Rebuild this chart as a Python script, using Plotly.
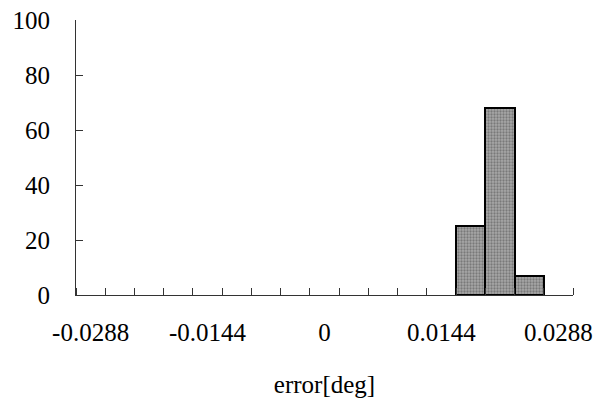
import plotly.graph_objects as go

bin_centers = [0.0180, 0.0216, 0.0252]
counts = [25, 68, 7]
bin_width = 0.0036
x_tick_vals = [-0.0288, -0.0144, 0, 0.0144, 0.0288]
x_tick_text = ["-0.0288", "-0.0144", "0", "0.0144", "0.0288"]
y_tick_vals = [0, 20, 40, 60, 80, 100]
x_min, x_max = -0.0306, 0.0306

fig = go.Figure()
fig.add_trace(go.Bar(
    x=bin_centers, y=counts, width=bin_width,
    marker=dict(
        color="#909090",
        line=dict(color="black", width=2),
        pattern=dict(shape=".", fgcolor="#4a4a4a", bgcolor="#a8a8a8", size=3, solidity=0.45),
    ),
    showlegend=False,
))

font = dict(family="'Liberation Serif', 'Times New Roman', Times, serif", size=25, color="black")

fig.update_layout(
    width=610, height=399,
    margin=dict(l=76, r=37, t=20, b=104, autoexpand=False),
    paper_bgcolor="white", plot_bgcolor="white",
    font=font,
    bargap=0,
    xaxis=dict(
        range=[x_min, x_max], automargin=False,
        tickmode="array", tickvals=x_tick_vals, ticktext=x_tick_text,
        ticks="", showgrid=False, zeroline=False,
        showline=True, linecolor="#333", linewidth=1,
        ticklabelstandoff=15,
        minor=dict(tickmode="linear", tick0=x_min, dtick=bin_width,
                   ticks="inside", ticklen=7, tickcolor="#333", tickwidth=1, showgrid=False),
        title=dict(text="error[deg]", font=font, standoff=30),
    ),
    yaxis=dict(
        range=[0, 100], automargin=False,
        tickmode="array", tickvals=y_tick_vals,
        ticks="inside", ticklen=7, tickcolor="#333", tickwidth=1,
        showgrid=False, zeroline=False,
        showline=True, linecolor="#333", linewidth=1,
        ticklabelstandoff=20,
    ),
)

fig.write_html("out.html")
